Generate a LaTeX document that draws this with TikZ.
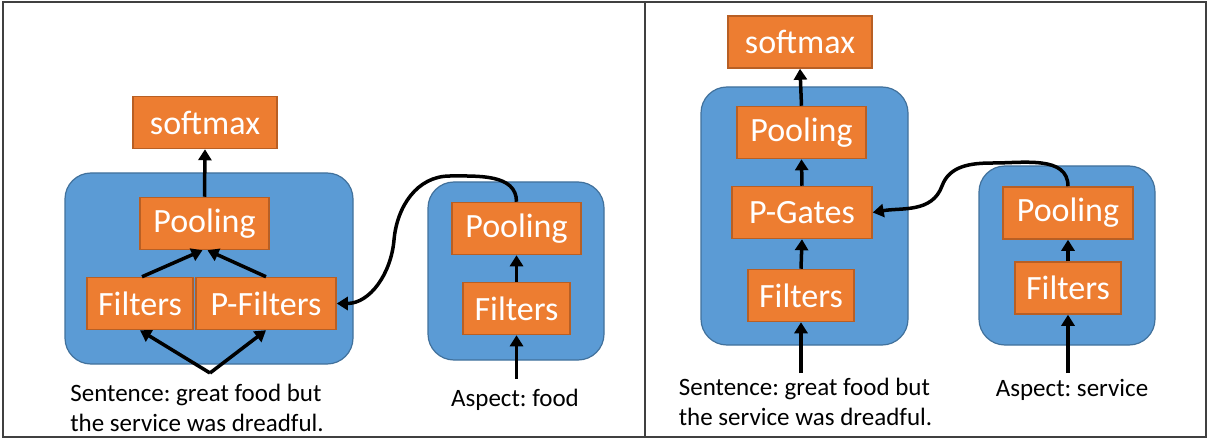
\documentclass[tikz,border=0pt]{standalone}
\usepackage{fontspec}
\setmainfont{Carlito}
\frenchspacing
\usetikzlibrary{arrows.meta}
\definecolor{boxorange}{HTML}{ED7D31}
\definecolor{boxedge}{HTML}{B85F24}
\definecolor{grpblue}{HTML}{5B9BD5}
\definecolor{grpedge}{HTML}{41719C}
\begin{document}
\begin{tikzpicture}[x=1pt,y=-1pt,
    blk/.style={draw=boxedge,line width=1.5pt,fill=boxorange,text=white,
        minimum height=52pt,inner sep=0pt,font=\fontsize{34}{38}\selectfont},
    grp/.style={draw=grpedge,line width=1.2pt,fill=grpblue,rounded corners=26pt},
    lbl/.style={inner sep=0pt,align=left,font=\fontsize{25}{30}\selectfont},
    arr/.style={line width=3.5pt,-{Triangle[length=11pt,width=13pt]}}]
\useasboundingbox (0,0) rectangle (1211,441);
\draw[line width=1.5pt,black!75] (3,2) rectangle (1206,437);
\draw[line width=1.5pt,black!75] (645,2)--(645,437);

% left: sentence side
\draw[grp] (65,173) rectangle (353,364);
\node[blk,minimum width=144pt] (sm1) at (205,122.5) {softmax};
\node[blk,minimum width=129pt] (pool1) at (204.5,223.5) {Pooling};
\node[blk,minimum width=106pt] (fil1) at (140,303.5) {Filters};
\node[blk,minimum width=140pt] (pfil1) at (266,303.5) {P-Filters};
\node[lbl] (sent1) at (197,408) {Sentence: great food but\\the service was dreadful.};
\coordinate (split1) at (210,373);
\draw[arr] (pool1.north)--(sm1.south);
\draw[arr] (fil1.north-|142,0)--([xshift=-2pt]pool1.south);
\draw[arr] (pfil1.north)--([xshift=3pt]pool1.south);
\draw[arr] (split1)--(fil1.south);
\draw[arr] (split1)--(pfil1.south);

% left: aspect side
\draw[grp] (428,182) rectangle (604,360);
\node[blk,minimum width=129pt] (pool2) at (516.5,228.5) {Pooling};
\node[blk,minimum width=107pt] (fil2) at (516.5,308.5) {Filters};
\node[lbl] (asp2) at (515,400) {Aspect: food};
\coordinate (a2) at (516.5,379);
\coordinate (c1) at (450,176);
\coordinate (c2) at (394,240);
\draw[arr] (fil2.north)--(pool2.south);
\draw[arr] (a2)--(fil2.south);
\draw[arr] (pool2.north) to[out=90,in=0] (c1) to[out=180,in=85] (c2)
    to[out=-95,in=0] (pfil1.east);

% right: sentence side
\draw[grp] (701,87) rectangle (908,345);
\node[blk,minimum width=144pt] (sm3) at (800,42) {softmax};
\node[blk,minimum width=129pt] (pool3) at (801.5,132.5) {Pooling};
\node[blk,minimum width=140pt] (pg3) at (802,212.5) {P-Gates};
\node[blk,minimum width=106pt] (fil3) at (801,295.5) {Filters};
\node[lbl] (sent3) at (805.5,402) {Sentence: great food but\\the service was dreadful.};
\coordinate (a3) at (801,373);
\draw[arr] (pool3.north)--(sm3.south);
\draw[arr] (pg3.north)--(pool3.south);
\draw[arr] (fil3.north)--(pg3.south);
\draw[arr] (a3)--(fil3.south);

% right: aspect side
\draw[grp] (979,166) rectangle (1155,345);
\node[blk,minimum width=130pt] (pool4) at (1068,213) {Pooling};
\node[blk,minimum width=106pt] (fil4) at (1068,288) {Filters};
\node[lbl] (asp4) at (1072,390) {Aspect: service};
\coordinate (a4) at (1068,373);
\coordinate (c3) at (993,163);
\coordinate (c4) at (942,186);
\draw[arr] (fil4.north)--(pool4.south);
\draw[arr] (a4)--(fil4.south);
\draw[arr] (pool4.north) to[out=90,in=0] (c3) to[out=180,in=70] (c4)
    to[out=-110,in=10] (pg3.east);
\end{tikzpicture}
\end{document}
